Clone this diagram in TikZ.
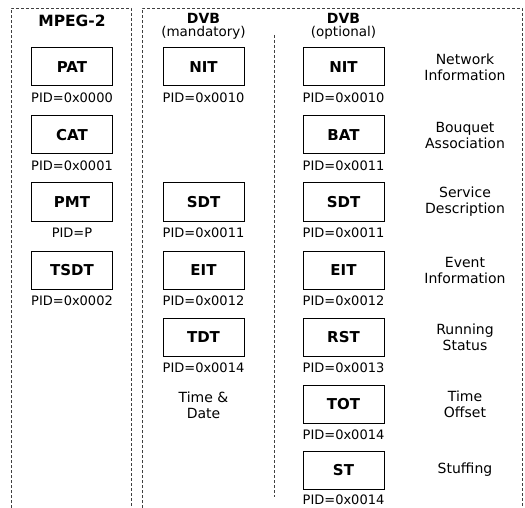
\documentclass[tikz,border=0pt]{standalone}
\usepackage{fontspec}
\setmainfont{DejaVu Sans}
\usepackage{tikz}
\usetikzlibrary{positioning}

\tikzset{
  tbl/.style={draw, line width=1pt, minimum width=81pt, minimum height=38pt,
    inner sep=0pt, font=\fontsize{15}{17}\selectfont\bfseries},
  pid/.style={inner sep=0pt, font=\fontsize{13}{15}\selectfont},
  info/.style={align=center, font=\fontsize{14}{16}\selectfont},
  head/.style={inner sep=0pt, font=\fontsize{14}{16}\selectfont\bfseries},
  subhead/.style={inner sep=0pt, font=\fontsize{13.5}{15}\selectfont},
  frame/.style={densely dashed, line width=0.6pt, black!75}
}

\begin{document}
\begin{tikzpicture}[x=1pt,y=-1pt]
            \useasboundingbox (0,0) rectangle (525,508);
            % panels
            \draw[frame] (11,508) -- (11,8) -- (131,8) -- (131,508);
            \draw[frame] (142,508) -- (142,8) -- (522,8) -- (522,508);
            \draw[frame] (274,35) -- (274,497);
            % headings
            \node[head, font=\fontsize{15.5}{17}\selectfont\bfseries] (mpeg) at (72,21) {MPEG-2};
            \node[head] (dvbm) at (203.5,18) {DVB};
            \node[subhead] (mand) at (203.5,32.5) {(mandatory)};
            \node[head] (dvbo) at (343.5,18) {DVB};
            \node[subhead] (opt) at (343.5,32.5) {(optional)};
            % MPEG-2 tables
            \node[tbl] (pat) at (72,67) {PAT};
            \node[pid, below=6pt of pat] (patpid) {PID=0x0000};
            \node[tbl] (cat) at (72,135) {CAT};
            \node[pid, below=6pt of cat] (catpid) {PID=0x0001};
            \node[tbl] (pmt) at (72,202) {PMT};
            \node[pid, below=6pt of pmt] (pmtpid) {PID=P};
            \node[tbl] (tsdt) at (72,270) {TSDT};
            \node[pid, below=6pt of tsdt] (tsdtpid) {PID=0x0002};
            % DVB mandatory
            \node[tbl] (nitm) at (203.5,67) {NIT};
            \node[pid, below=6pt of nitm] (nitmpid) {PID=0x0010};
            \node[tbl] (sdtm) at (203.5,202) {SDT};
            \node[pid, below=6pt of sdtm] (sdtmpid) {PID=0x0011};
            \node[tbl] (eitm) at (203.5,270) {EIT};
            \node[pid, below=6pt of eitm] (eitmpid) {PID=0x0012};
            \node[tbl] (tdt) at (203.5,337) {TDT};
            \node[pid, below=6pt of tdt] (tdtpid) {PID=0x0014};
            \node[info] (tdtinfo) at (203.5,405) {Time \&\\Date};
            % DVB optional
            \node[tbl] (nito) at (343.5,67) {NIT};
            \node[pid, below=6pt of nito] (nitopid) {PID=0x0010};
            \node[info] (nitinfo) at (465,67) {Network\\Information};
            \node[tbl] (bat) at (343.5,135) {BAT};
            \node[pid, below=6pt of bat] (batpid) {PID=0x0011};
            \node[info] (batinfo) at (465,135) {Bouquet\\Association};
            \node[tbl] (sdto) at (343.5,202) {SDT};
            \node[pid, below=6pt of sdto] (sdtopid) {PID=0x0011};
            \node[info] (sdtinfo) at (465,202) {Service\\Description};
            \node[tbl] (eito) at (343.5,270) {EIT};
            \node[pid, below=6pt of eito] (eitopid) {PID=0x0012};
            \node[info] (eitinfo) at (465,270) {Event\\Information};
            \node[tbl] (rst) at (343.5,337) {RST};
            \node[pid, below=6pt of rst] (rstpid) {PID=0x0013};
            \node[info] (rstinfo) at (465,337) {Running\\Status};
            \node[tbl] (tot) at (343.5,404) {TOT};
            \node[pid, below=6pt of tot] (totpid) {PID=0x0014};
            \node[info] (totinfo) at (465,404) {Time\\Offset};
            \node[tbl] (st) at (343.5,470) {ST};
            \node[pid, below=5pt of st] (stpid) {PID=0x0014};
            \node[info] (stinfo) at (465,470) {Stuffing};
\end{tikzpicture}
\end{document}
